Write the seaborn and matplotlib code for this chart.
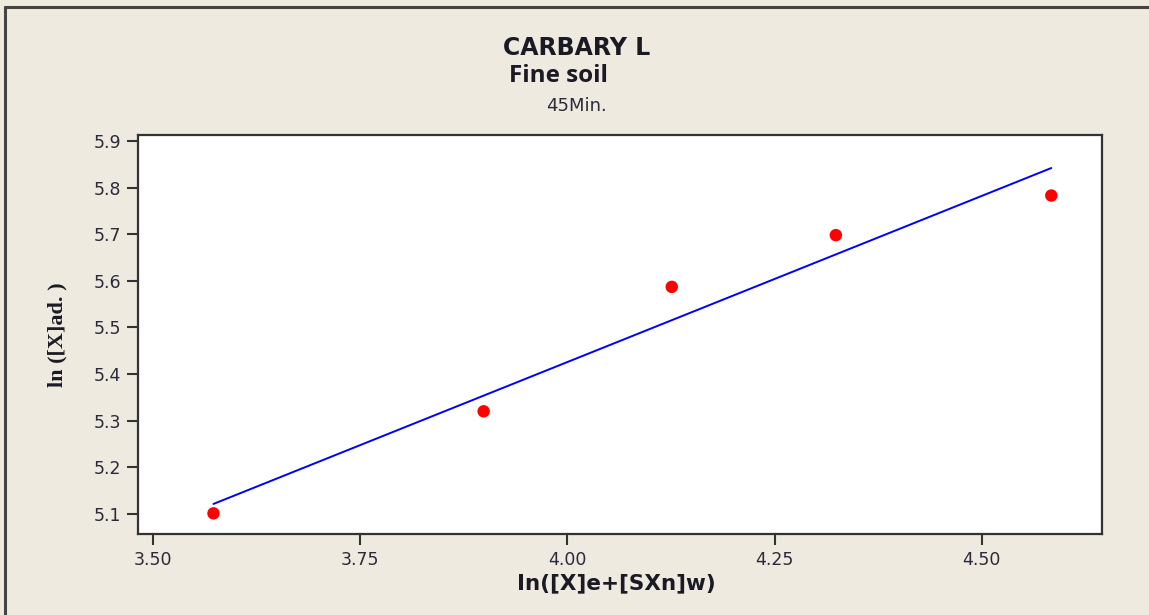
import matplotlib
matplotlib.use("Agg")
import matplotlib.pyplot as plt
import seaborn as sns
import pandas as pd

# Adsorption isotherm data (log-transformed)
x_vals = [3.573, 3.899, 4.126, 4.324, 4.584]
y_vals = [5.101, 5.320, 5.587, 5.698, 5.783]

x_ticks = [3.50, 3.75, 4.00, 4.25, 4.50]
y_ticks = [5.1, 5.2, 5.3, 5.4, 5.5, 5.6, 5.7, 5.8, 5.9]

title_main = "CARBARY L"
title_sub = "Fine soil"
title_time = "45Min."
x_label = "In([X]e+[SXn]w)"
y_label = "ln ([X]ad. )"

df = pd.DataFrame({"x": x_vals, "y": y_vals})

sns.set_theme(style="white")
plt.rcParams["font.family"] = ["DejaVu Sans"]

bg = "#EEEAE0"
fig = plt.figure(figsize=(11.49, 6.15), dpi=100, facecolor=bg)
ax = fig.add_axes([0.1201, 0.1317, 0.8387, 0.6488])
ax.set_facecolor("white")

# least-squares fit line across the data range
sns.regplot(data=df, x="x", y="y", ax=ax, scatter=False, ci=None,
            truncate=True, color="#0000FF", line_kws={"linewidth": 1.4})
sns.scatterplot(data=df, x="x", y="y", ax=ax, color="#FF0000", s=80,
                marker="o", edgecolor="none", zorder=5)

ax.set_xlim(3.4819, 4.6448)
ax.set_ylim(5.0567, 5.9129)
ax.set_xticks(x_ticks)
ax.set_xticklabels([f"{v:.2f}" for v in x_ticks])
ax.set_yticks(y_ticks)
ax.set_yticklabels([f"{v:.1f}" for v in y_ticks])
ax.set_xlabel("")
ax.set_ylabel("")

ax.tick_params(axis="both", which="major", direction="out", length=8,
               width=1.5, color="#333333", labelsize=12.5,
               labelcolor="#2a2a3a", bottom=True, left=True, pad=4)
for s in ax.spines.values():
    s.set_color("#333333")
    s.set_linewidth(1.6)

# headings
fig.text(0.502, 0.9106, title_main, ha="center", va="baseline",
         fontsize=17, fontweight="bold", color="#1a1a25")
fig.text(0.486, 0.8667, title_sub, ha="center", va="baseline",
         fontsize=17.5, fontweight="bold", color="#1a1a25",
         family=["Open Sans", "DejaVu Sans"])
fig.text(0.502, 0.8195, title_time, ha="center", va="baseline",
         fontsize=13, color="#2a2a3a")

fig.text(0.5366, 0.052, x_label, ha="center", va="center",
         fontsize=15.5, fontweight="bold", color="#1a1a25")
fig.text(0.0496, 0.4553, y_label, ha="center", va="center", rotation=90,
         fontsize=16, fontweight="bold", color="#1a1a25",
         family=["Liberation Serif", "DejaVu Serif"])

# outer frame lines along the top and left edges
fig.add_artist(plt.Line2D([0.0044, 1.0], [0.9894, 0.9894], transform=fig.transFigure,
                          color="#444444", linewidth=2.2))
fig.add_artist(plt.Line2D([0.0044, 0.0044], [0.0, 0.9894], transform=fig.transFigure,
                          color="#444444", linewidth=2.2))

fig.savefig("out.png", dpi=100, facecolor=bg)
